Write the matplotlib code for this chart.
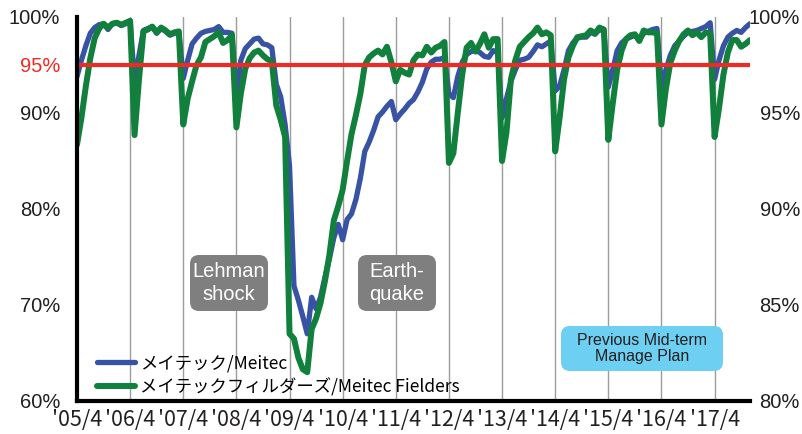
import matplotlib.pyplot as plt
import numpy as np
from matplotlib.patches import FancyBboxPatch

# x tick labels (every April)
year_labels = ["'05/4", "'06/4", "'07/4", "'08/4", "'09/4", "'10/4", "'11/4",
               "'12/4", "'13/4", "'14/4", "'15/4", "'16/4", "'17/4"]

# monthly utilization rate (%), 2005/4 .. 2017/12
meitec = [
    93.8, 95.5, 97.0, 98.3, 98.9, 99.2, 99.3, 98.7, 99.3, 99.4, 99.1, 99.3,   # FY05
    99.6, 93.2, 96.0, 98.6, 98.8, 99.0, 98.3, 98.8, 98.5, 98.1, 98.3, 98.4,   # FY06
    93.6, 95.5, 97.2, 97.8, 98.3, 98.5, 98.6, 98.7, 99.0, 98.4, 98.4, 98.3,   # FY07
    91.5, 95.5, 96.7, 97.2, 97.7, 97.8, 97.2, 97.1, 96.8, 93.0, 91.7, 88.8,   # FY08
    84.5, 72.0, 70.5, 68.8, 67.0, 70.8, 69.6, 70.8, 72.9, 74.8, 77.0, 78.4,   # FY09
    76.8, 78.9, 79.5, 81.0, 83.2, 86.0, 87.0, 88.2, 89.6, 90.1, 90.7, 91.2,   # FY10
    89.3, 89.9, 90.4, 91.0, 91.4, 92.2, 93.2, 94.6, 95.3, 95.6, 95.6, 95.8,   # FY11
    92.0, 91.6, 93.8, 95.3, 96.1, 96.4, 96.5, 96.3, 95.9, 95.8, 96.5, 96.3,   # FY12
    89.5, 91.5, 93.3, 94.5, 95.5, 95.6, 95.8, 96.4, 97.1, 96.9, 97.2, 97.5,   # FY13
    92.3, 92.8, 94.5, 96.5, 97.3, 97.8, 97.9, 97.9, 98.4, 98.2, 98.7, 98.5,   # FY14
    92.7, 94.5, 96.5, 97.3, 97.7, 97.9, 98.1, 97.6, 98.3, 98.5, 98.7, 98.8,   # FY15
    92.7, 94.5, 96.0, 97.0, 97.5, 98.0, 98.4, 98.5, 98.6, 98.8, 99.0, 99.4,   # FY16
    93.5, 95.5, 97.0, 97.9, 98.3, 98.6, 98.4, 98.9, 99.3,                     # FY17
]
fielders = [
    86.7, 89.5, 92.8, 95.7, 97.8, 98.8, 99.3, 98.9, 99.3, 99.4, 99.2, 99.4,
    99.6, 87.7, 93.5, 98.5, 98.7, 99.0, 98.4, 98.9, 98.6, 98.2, 98.4, 98.5,
    88.8, 91.5, 93.3, 95.0, 95.8, 97.4, 97.7, 98.0, 98.4, 97.3, 97.6, 98.1,
    88.5, 92.0, 94.6, 95.7, 96.3, 96.5, 96.0, 95.6, 95.4, 90.8, 89.3, 87.5,
    67.0, 66.5, 64.5, 63.3, 63.0, 67.5, 68.6, 70.2, 72.5, 75.2, 78.8, 80.3,
    82.0, 85.0, 87.8, 89.8, 92.0, 95.0, 95.8, 96.2, 96.5, 96.1, 96.9, 95.3,
    93.3, 94.5, 94.2, 94.0, 95.5, 96.1, 96.0, 96.9, 96.3, 96.8, 97.0, 97.4,
    84.8, 85.8, 90.0, 94.0, 96.8, 97.3, 96.4, 97.2, 98.2, 96.8, 97.7, 97.7,
    85.0, 88.0, 93.5, 95.5, 96.9, 97.4, 97.9, 98.3, 98.9, 98.2, 98.4, 98.1,
    86.0, 89.5, 93.5, 95.8, 97.0, 97.9, 98.0, 98.1, 98.6, 98.3, 98.9, 98.7,
    87.2, 91.0, 94.5, 96.5, 97.7, 98.1, 98.2, 97.5, 98.6, 98.4, 98.4, 98.3,
    88.8, 92.5, 95.2, 96.5, 97.5, 98.2, 98.6, 98.1, 98.4, 97.9, 98.4, 98.3,
    87.5, 90.5, 94.0, 96.3, 97.6, 97.6, 96.9, 97.2, 97.6,
]
target = 95

left_ticks = [60, 70, 80, 90, 95, 100]
right_ticks = [80, 85, 90, 95, 100]

txt = '#231f20'
jp = ['Noto Sans CJK JP', 'DejaVu Sans']

W, H = 803, 434
fig = plt.figure(figsize=(W / 100, H / 100), dpi=100)
ax = fig.add_axes([77 / W, 1 - 401 / H, (750 - 77) / W, (401 - 17) / H])

x = np.arange(len(meitec))
ax.plot(x, meitec, color='#3953a4', lw=3.8, solid_joinstyle='round',
        solid_capstyle='round', label='メイテック/Meitec', zorder=3)
ax.plot(x, fielders, color='#10803c', lw=4.3, solid_joinstyle='round',
        solid_capstyle='round', label='メイテックフィルダーズ/Meitec Fielders', zorder=4)
ax.axhline(target, color='#ee2a24', lw=3, zorder=5)

ax.set_xlim(0, len(meitec) - 1)
ax.set_ylim(60, 100)
ax.set_xticks(np.arange(0, len(meitec), 12))
ax.set_xticklabels(year_labels, fontsize=15.5, family=jp, color=txt)
ax.set_yticks(left_ticks)
ax.set_yticklabels([f'{t}%' for t in left_ticks], fontsize=14.5,
                   family='Liberation Sans', color=txt)
ax.get_yticklabels()[left_ticks.index(target)].set_color('#ee2a24')
ax.tick_params(axis='x', length=0, pad=6)
ax.tick_params(axis='y', length=0, pad=12)

ax.grid(axis='x', color='#9d9d9d', lw=1)
ax.set_axisbelow(True)
for s in ['top', 'right']:
    ax.spines[s].set_visible(False)
for s in ['left', 'bottom']:
    ax.spines[s].set_linewidth(3)
    ax.spines[s].set_color('black')
    ax.spines[s].set_zorder(6)

# right axis
ax2 = ax.twinx()
ax2.set_ylim(80, 100)
ax2.set_yticks(right_ticks)
ax2.set_yticklabels([f'{t}%' for t in right_ticks], fontsize=14.5,
                    family='Liberation Sans', color=txt, ha='right')
ax2.tick_params(axis='y', length=0, pad=36)
for s in ax2.spines.values():
    s.set_visible(False)


# annotation boxes (pixel boxes -> axes fraction)
def note(x0, y0, x1, y1, text, fc, tc, size, ls):
    aw, ah = 750 - 77, 401 - 17
    bx, by = (x0 - 77) / aw, (401 - y1) / ah
    bw, bh = (x1 - x0) / aw, (y1 - y0) / ah
    ax.add_patch(FancyBboxPatch((bx, by), bw, bh, transform=ax.transAxes,
                                boxstyle=f'round,pad=0,rounding_size={9 / aw}',
                                mutation_aspect=aw / ah, fc=fc, ec='none', zorder=7))
    ax.text(bx + bw / 2, by + bh / 2, text, transform=ax.transAxes, fontsize=size,
            color=tc, family='Liberation Sans', ha='center', va='center',
            linespacing=ls, zorder=8)


note(190, 255, 268, 311, 'Lehman\nshock', '#7f7f7f', 'white', 14.5, 1.25)
note(358, 255, 436, 311, 'Earth-\nquake', '#7f7f7f', 'white', 14.5, 1.25)
note(561, 326, 723, 371, 'Previous Mid-term\nManage Plan', '#6dcff2', txt, 11.5, 1.15)

ax.legend(loc='lower left', bbox_to_anchor=((97 - 77) / 673, (401 - 396) / 384),
          frameon=False, borderpad=0, borderaxespad=0, handlelength=2.2,
          handletextpad=0.3, labelspacing=0.3,
          prop={'family': jp, 'size': 12.5})

fig.savefig('out.png', dpi=100)
